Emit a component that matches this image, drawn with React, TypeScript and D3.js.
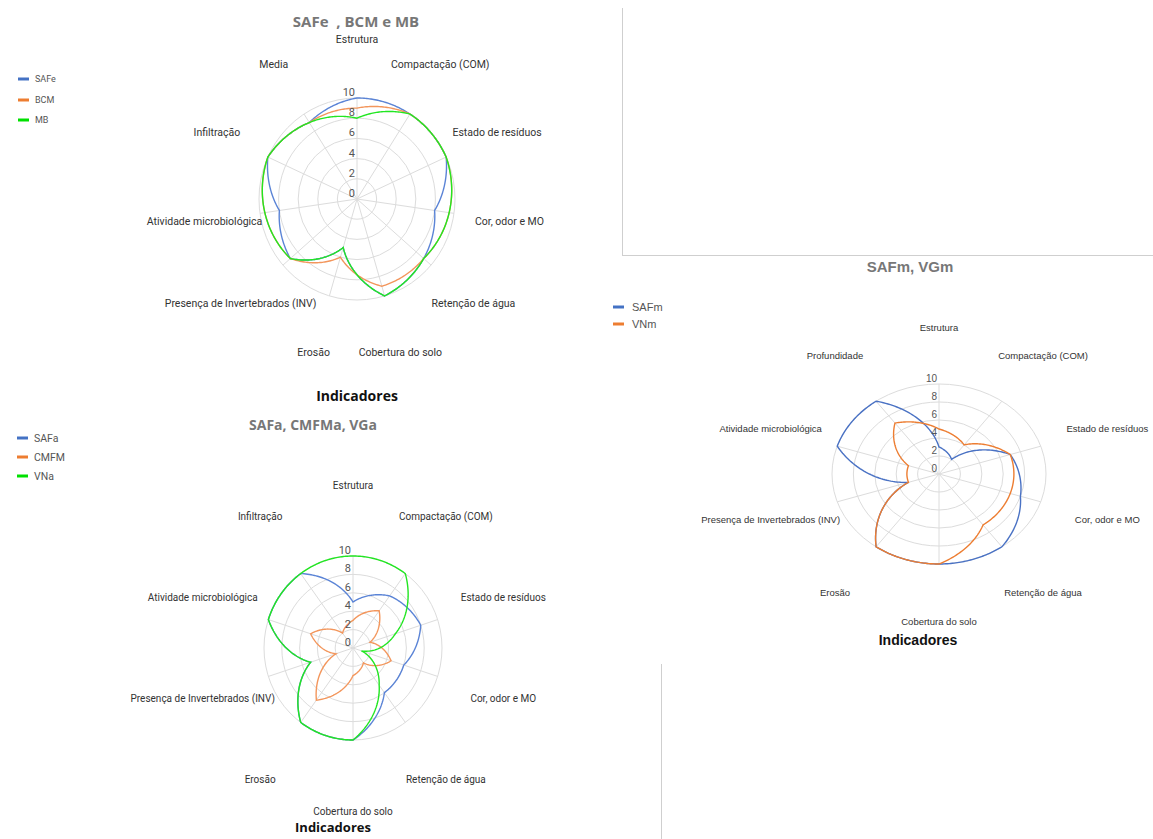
import React from "react";
import * as d3 from "d3";

const W = 1153;
const H = 839;

const ticks = [0, 2, 4, 6, 8, 10];

// Chart 1: SAFe, BCM e MB
const cats1 = [
  "Estrutura",
  "Compactação (COM)",
  "Estado de resíduos",
  "Cor, odor e MO",
  "Retenção de água",
  "Cobertura do solo",
  "Erosão",
  "Presença de Invertebrados (INV)",
  "Atividade microbiológica",
  "Infiltração",
  "Media",
];
const safe = [10, 10, 10, 8, 9, 10, 5, 9, 8, 10, 9];
const bcm = [9, 10, 10, 9.5, 9, 9, 6, 9, 9.5, 10, 9];
const mb = [8, 10, 10, 9.5, 9, 10, 5, 9, 9.5, 10, 9];
const legend1 = ["SAFe", "BCM", "MB"];

// Chart 2: SAFa, CMFMa, VGa
const cats2 = [
  "Estrutura",
  "Compactação (COM)",
  "Estado de resíduos",
  "Cor, odor e MO",
  "Retenção de água",
  "Cobertura do solo",
  "Erosão",
  "Presença de Invertebrados (INV)",
  "Atividade microbiológica",
  "Infiltração",
];
const safa = [5, 7, 8, 6, 6, 10, 10, 5, 10, 10];
const cmfm = [3, 5, 2, 4.5, 2, 3, 7, 2, 5, 2];
const vna = [10, 10, 5, 1, 5, 10, 10, 5, 10, 10];
const legend2 = ["SAFa", "CMFM", "VNa"];

// Chart 3: SAFm, VGm
const cats3 = [
  "Estrutura",
  "Compactação (COM)",
  "Estado de resíduos",
  "Cor, odor e MO",
  "Retenção de água",
  "Cobertura do solo",
  "Erosão",
  "Presença de Invertebrados (INV)",
  "Atividade microbiológica",
  "Profundidade",
];
const safm = [3, 2, 7, 8, 10, 10, 10, 3, 10, 10];
const vnm = [5, 4, 7, 7, 7, 10, 10, 3, 3, 7];
const legend3 = ["SAFm", "VNm"];

const BLUE = "#5b84d6";
const ORANGE = "#f3965c";
const GREEN = "#22e622";
const BLUE3 = "#4a72c4";
const ORANGE3 = "#ed7d31";

type Series = { values: number[]; color: string };

function Radar(props: {
  cx: number;
  cy: number;
  rx: number;
  ry: number;
  lx: number;
  ly: number;
  cats: string[];
  series: Series[];
  font: string;
  labelSize: number;
  tickSize: number;
}) {
  const { cx, cy, rx, ry, lx, ly, cats, series, font, labelSize, tickSize } = props;
  const n = cats.length;
  const r = d3.scaleLinear().domain([0, 10]).range([0, 1]);
  const ang = d3.scaleLinear().domain([0, n]).range([0, 2 * Math.PI]);
  const STEPS = 40;
  const line = d3.line<[number, number]>().curve(d3.curveLinearClosed);

  const pathFor = (vals: number[]) => {
    const pts: [number, number][] = [];
    for (let i = 0; i < n; i++) {
      const a0 = vals[i];
      const a1 = vals[(i + 1) % n];
      for (let s = 0; s < STEPS; s++) {
        const t = s / STEPS;
        const a = ang(i + t);
        const v = a0 + (a1 - a0) * t;
        pts.push([cx + rx * r(v) * Math.sin(a), cy - ry * r(v) * Math.cos(a)]);
      }
    }
    return line(pts) || "";
  };

  return (
    <g>
      {ticks
        .filter((t) => t > 0)
        .map((t) => (
          <ellipse
            key={"ring" + t}
            cx={cx}
            cy={cy}
            rx={rx * r(t)}
            ry={ry * r(t)}
            fill="none"
            stroke="#dcdcdc"
            strokeWidth={1}
          />
        ))}
      {cats.map((c, i) => {
        const a = ang(i);
        return (
          <line
            key={"spoke" + i}
            x1={cx}
            y1={cy}
            x2={cx + rx * Math.sin(a)}
            y2={cy - ry * Math.cos(a)}
            stroke="#dcdcdc"
            strokeWidth={1}
          />
        );
      })}
      {series.map((s, i) => (
        <path key={"s" + i} d={pathFor(s.values)} fill="none" stroke={s.color} strokeWidth={1.4} />
      ))}
      {ticks.map((t) => (
        <text
          key={"tk" + t}
          x={cx - 2}
          y={cy - ry * r(t) - 2}
          textAnchor="end"
          fontFamily={font}
          fontSize={tickSize}
          fill="#555"
        >
          {t}
        </text>
      ))}
      {cats.map((c, i) => {
        const a = ang(i);
        return (
          <text
            key={"lab" + i}
            x={cx + lx * Math.sin(a)}
            y={cy - ly * Math.cos(a)}
            textAnchor="middle"
            dominantBaseline="central"
            fontFamily={font}
            fontSize={labelSize}
            fill="#333"
          >
            {c}
          </text>
        );
      })}
    </g>
  );
}

function Legend(props: {
  x: number;
  ys: number[];
  labels: string[];
  colors: string[];
  font: string;
  size: number;
  textDx: number;
}) {
  const { x, ys, labels, colors, font, size, textDx } = props;
  return (
    <g>
      {labels.map((l, i) => (
        <g key={l}>
          <line x1={x} x2={x + 11} y1={ys[i]} y2={ys[i]} stroke={colors[i]} strokeWidth={3} />
          <text
            x={x + textDx}
            y={ys[i]}
            dominantBaseline="central"
            fontFamily={font}
            fontSize={size}
            fill="#555"
          >
            {l}
          </text>
        </g>
      ))}
    </g>
  );
}

export default function App() {
  return (
    <svg
      width={W}
      height={H}
      viewBox={`0 0 ${W} ${H}`}
      style={{ position: "absolute", left: 0, top: 0, background: "#fff" }}
    >
      <rect x={0} y={0} width={W} height={H} fill="#fff" />

      {/* frame lines */}
      <line x1={622.5} y1={8} x2={622.5} y2={255.5} stroke="#cfcfcf" strokeWidth={1} />
      <line x1={622} y1={255.5} x2={W} y2={255.5} stroke="#cfcfcf" strokeWidth={1} />
      <line x1={661.5} y1={664} x2={661.5} y2={H} stroke="#cfcfcf" strokeWidth={1} />

      {/* Chart 1 */}
      <text
        x={356}
        y={21}
        textAnchor="middle"
        dominantBaseline="central"
        fontFamily="Open Sans"
        fontWeight="bold"
        fontSize={15}
        fill="#777"
        style={{ whiteSpace: "pre" }}
      >
        {"SAFe  , BCM e MB"}
      </text>
      <Legend
        x={18}
        ys={[79, 100, 120]}
        labels={legend1}
        colors={["#4472c4", "#ed7d31", "#00e000"]}
        font="Roboto"
        size={9}
        textDx={17}
      />
      <Radar
        cx={357}
        cy={199}
        rx={98}
        ry={101}
        lx={154}
        ly={160}
        cats={cats1}
        series={[
          { values: safe, color: BLUE },
          { values: bcm, color: ORANGE },
          { values: mb, color: GREEN },
        ]}
        font="Roboto"
        labelSize={10.5}
        tickSize={11}
      />
      <text x={357} y={395} textAnchor="middle" dominantBaseline="central" fontFamily="Open Sans" fontWeight="bold" fontSize={14} fill="#111">
        Indicadores
      </text>

      {/* Chart 2 */}
      <text x={313} y={424} textAnchor="middle" dominantBaseline="central" fontFamily="Open Sans" fontWeight="bold" fontSize={14} fill="#777">
        SAFa, CMFMa, VGa
      </text>
      <Legend
        x={17}
        ys={[438, 457, 476]}
        labels={legend2}
        colors={["#4472c4", "#ed7d31", "#00e000"]}
        font="Roboto"
        size={10.5}
        textDx={17}
      />
      <Radar
        cx={353}
        cy={648}
        rx={89}
        ry={92}
        lx={158}
        ly={163}
        cats={cats2}
        series={[
          { values: safa, color: BLUE },
          { values: cmfm, color: ORANGE },
          { values: vna, color: GREEN },
        ]}
        font="Roboto"
        labelSize={10}
        tickSize={11}
      />
      <text x={333} y={827} textAnchor="middle" dominantBaseline="central" fontFamily="Open Sans" fontWeight="bold" fontSize={13} fill="#111">
        Indicadores
      </text>

      {/* Chart 3 */}
      <text x={910} y={266} textAnchor="middle" dominantBaseline="central" fontFamily="Liberation Sans" fontWeight="bold" fontSize={15} fill="#777">
        SAFm, VGm
      </text>
      <Legend
        x={613}
        ys={[307, 324]}
        labels={legend3}
        colors={["#4472c4", "#ed7d31"]}
        font="Liberation Sans"
        size={11}
        textDx={19}
      />
      <Radar
        cx={939}
        cy={474}
        rx={107}
        ry={90}
        lx={177}
        ly={147}
        cats={cats3}
        series={[
          { values: safm, color: BLUE3 },
          { values: vnm, color: ORANGE3 },
        ]}
        font="Liberation Sans"
        labelSize={9.5}
        tickSize={10}
      />
      <text x={918} y={640} textAnchor="middle" dominantBaseline="central" fontFamily="Liberation Sans" fontWeight="bold" fontSize={14} fill="#111">
        Indicadores
      </text>
    </svg>
  );
}
